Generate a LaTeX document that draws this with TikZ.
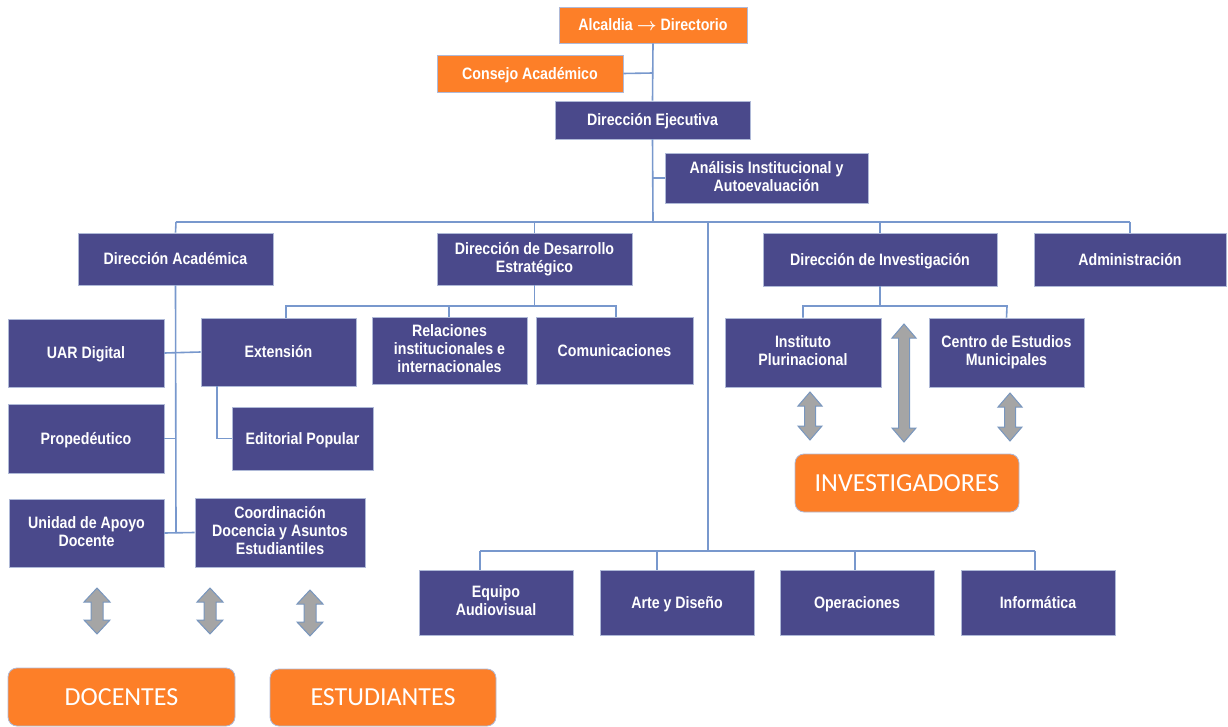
\documentclass[tikz,border=0pt]{standalone}
\usepackage{fontspec}
\setmainfont{Liberation Sans}[FakeStretch=0.86]
\newfontfamily\calfont{Carlito}
\definecolor{boxblue}{RGB}{74,73,139}
\definecolor{boxedge}{RGB}{175,185,215}
\definecolor{orng}{RGB}{253,127,40}
\definecolor{lineblue}{RGB}{120,152,205}
\definecolor{arrfill}{RGB}{165,165,165}
\definecolor{arredge}{RGB}{120,150,190}
\newcommand{\bstrut}{\rule[-3.3pt]{0pt}{18pt}}
\tikzset{
  box/.style={fill=boxblue, draw=boxedge, line width=0.8pt, text=white, align=center, inner sep=0pt,
    font=\bfseries\fontsize{16.5}{18}\selectfont, execute at begin node=\bstrut, execute at end node=\bstrut},
  obox/.style={box, fill=orng},
  pill/.style={fill=orng, draw=boxedge, line width=0.8pt, rounded corners=9pt, text=white, inner sep=0pt,
    font=\calfont\fontsize{26}{28}\selectfont},
  conn/.style={draw=lineblue, line width=1.6pt},
  dbl/.style={fill=arrfill, draw=arredge, line width=1pt, line join=miter},
}
\newcommand{\dblarr}[5]{% x, top, bottom, head half width, shaft half width
  \path[dbl] (#1,#2) -- (#1+#4,#2+14) -- (#1+#5,#2+14) -- (#1+#5,#3-14) -- (#1+#4,#3-14) -- (#1,#3)
    -- (#1-#4,#3-14) -- (#1-#5,#3-14) -- (#1-#5,#2+14) -- (#1-#4,#2+14) -- cycle;}
\begin{document}
\begin{tikzpicture}[x=1pt,y=-1pt]
\useasboundingbox (0,0) rectangle (1228,727);
% top
\node[obox, minimum width=188pt, minimum height=36pt] (alc) at (653,25) {Alcaldia {\boldmath$\rightarrow$} Directorio};
\node[obox, minimum width=186pt, minimum height=37pt] (cons) at (530,73.5) {Consejo Académico};
\node[box, minimum width=195pt, minimum height=38pt] (dej) at (652.5,120) {Dirección Ejecutiva};
\node[box, minimum width=203pt, minimum height=50pt] (anal) at (766.5,178) {Análisis Institucional y\\Autoevaluación};
% second level
\node[box, minimum width=195pt, minimum height=52pt] (dac) at (175.5,259) {Dirección Académica};
\node[box, minimum width=195pt, minimum height=52pt] (dde) at (534.5,259) {Dirección de Desarrollo\\Estratégico};
\node[box, minimum width=234pt, minimum height=53pt] (dinv) at (880,259.5) {Dirección de Investigación};
\node[box, minimum width=192pt, minimum height=53pt] (adm) at (1130,259.5) {Administración};
% third level
\node[box, minimum width=156pt, minimum height=68pt] (uar) at (86,353) {UAR Digital};
\node[box, minimum width=155pt, minimum height=68pt] (ext) at (278.5,352) {Extensión};
\node[box, minimum width=155pt, minimum height=67pt] (rel) at (449.5,350.5) {Relaciones\\institucionales e\\internacionales};
\node[box, minimum width=157pt, minimum height=67pt] (com) at (614.5,350.5) {Comunicaciones};
\node[box, minimum width=156pt, minimum height=69pt] (ipl) at (803,352.5) {Instituto\\Plurinacional};
\node[box, minimum width=155pt, minimum height=69pt] (cem) at (1006.5,352.5) {Centro de Estudios\\Municipales};
\node[box, minimum width=156pt, minimum height=69pt] (pro) at (86,438.5) {Propedéutico};
\node[box, minimum width=141pt, minimum height=63pt] (edi) at (302.5,438.5) {Editorial Popular};
\node[box, minimum width=155pt, minimum height=68pt] (uad) at (86.5,533) {Unidad de Apoyo\\Docente};
\node[box, minimum width=170pt, minimum height=69pt] (coo) at (280,532.5) {Coordinación\\Docencia y Asuntos\\Estudiantiles};
% bottom row
\node[box, minimum width=154pt, minimum height=65pt] (equ) at (496,602.5) {Equipo\\Audiovisual};
\node[box, minimum width=154pt, minimum height=65pt] (art) at (677,602.5) {Arte y Diseño};
\node[box, minimum width=154pt, minimum height=65pt] (ope) at (857,602.5) {Operaciones};
\node[box, minimum width=154pt, minimum height=65pt] (inf) at (1038,602.5) {Informática};
% pills
\node[pill, minimum width=224pt, minimum height=58pt] (inv) at (907,483) {INVESTIGADORES};
\node[pill, minimum width=227pt, minimum height=58pt] (doc) at (121.5,697) {DOCENTES};
\node[pill, minimum width=226pt, minimum height=57pt] (est) at (383,697.5) {ESTUDIANTES};
% coordinates
\coordinate (b1) at (653,73);
\coordinate (b2) at (653,178);
\coordinate (bus) at (653,222);
\coordinate (busL) at (176,222);
\coordinate (busR) at (1130,222);
\coordinate (mid) at (708,222);
\coordinate (low) at (708,551);
% connectors
\begin{scope}[conn]
\draw (alc.south) -- (dej.north);
\draw (cons.east) -- (b1);
\draw (dej.south) -- (bus);
\draw (anal.west) -- (b2);
\draw (busL) -- (busR);
\draw (busL) -- (dac.north);
\draw (busR) -- (adm.north);
\draw (dde.north) -- (dde.north |- bus);
\draw (dinv.north) -- (dinv.north |- bus);
\draw (mid) -- (low);
\draw (480,551) -- (1035,551);
\draw (480,551) -- (480,570);
\draw (657,551) -- (657,570);
\draw (855,551) -- (855,570);
\draw (1035,551) -- (1035,570);
% académica
\draw (dac.south) -- (176,533);
\draw (uar.east) -- (ext.west);
\draw (pro.east) -- (176,438.5);
\draw (uad.east) -- (coo.west);
\draw (217,386) -- (217,438.5) -- (edi.west);
% desarrollo
\draw (dde.south) -- (534.5,306);
\draw (286,318) -- (286,306) -- (616,306) -- (616,317);
\draw (449,306) -- (449,317);
% investigación
\draw (dinv.south) -- (880,306);
\draw (ipl.north) -- (803,306) -- (1007,306) -- (cem.north);
\end{scope}
% double arrows
\dblarr{97}{588}{634}{13}{6}
\dblarr{210}{588}{634}{13}{6}
\dblarr{310}{590}{636}{13}{6}
\dblarr{810}{392}{440}{12}{5.5}
\dblarr{904}{324}{442}{12}{5.5}
\dblarr{1010}{393}{441}{12}{5.5}
\end{tikzpicture}
\end{document}
